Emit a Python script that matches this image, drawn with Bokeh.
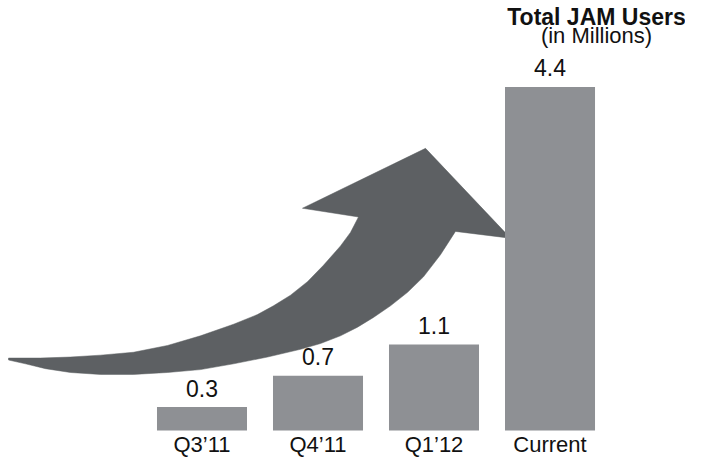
from bokeh.plotting import figure
from bokeh.models import ColumnDataSource, Label, Range1d
from bokeh.core.properties import value
from bokeh.embed import file_html
from bokeh.resources import INLINE

# ---- data ----
categories = ["Q3\u201911", "Q4\u201911", "Q1\u201912", "Current"]
users_millions = [0.3, 0.7, 1.1, 4.4]
value_labels = ["0.3", "0.7", "1.1", "4.4"]
title_text = "Total JAM Users"
subtitle_text = "(in Millions)"

# decorative growth arrow outline, in data units (x: category index, y: millions)
arrow_x = [-1.668, -1.392, -1.134, -0.875, -0.591, -0.297, -0.013, 0.272, 0.478, 0.616,
           0.763, 0.909, 1.047, 1.194, 1.280, 1.349,
           0.866, 1.927, 2.660, 2.185,
           2.056, 1.909, 1.772, 1.625, 1.478, 1.341, 1.194, 1.022, 0.849, 0.565,
           0.272, -0.013, -0.297, -0.591, -0.875, -1.134, -1.349, -1.522, -1.668]
arrow_y = [0.928, 0.928, 0.941, 0.965, 1.002, 1.089, 1.213, 1.361, 1.485, 1.597,
           1.733, 1.906, 2.116, 2.364, 2.537, 2.735,
           2.847, 3.614, 2.463, 2.550,
           2.252, 1.968, 1.770, 1.597, 1.448, 1.324, 1.213, 1.114, 1.040, 0.941,
           0.854, 0.780, 0.743, 0.718, 0.718, 0.743, 0.792, 0.854, 0.903]

xs = list(range(len(categories)))
src = ColumnDataSource(dict(x=xs, top=users_millions, cat=categories, lab=value_labels))

p = figure(width=685, height=458, output_backend="svg", toolbar_location=None,
           x_range=Range1d(-1.737, 4.168), y_range=Range1d(-0.3587, 5.508),
           min_border=0, outline_line_color=None)
p.axis.visible = False
p.grid.visible = False
p.background_fill_color = "white"
p.border_fill_color = "white"

BAR = "#8e9094"
ARROW = "#5d6063"
TXT = "#111111"

p.patch(arrow_x, arrow_y, fill_color=ARROW, line_color=ARROW, line_width=0.5)

p.vbar(x="x", top="top", bottom=0, width=0.776, source=src,
       fill_color=BAR, line_color=None)

p.text(x="x", y="top", text="lab", source=src, y_offset=-19,
       text_align="center", text_baseline="alphabetic",
       text_font=value("Liberation Sans"), text_font_size="23px", text_color=TXT)

p.text(x="x", y=0, text="cat", source=src, y_offset=14,
       text_align="center", text_baseline="alphabetic",
       text_font=value("Liberation Sans"), text_font_size="22px", text_color=TXT)

p.add_layout(Label(x=596, y=442, x_units="screen", y_units="screen", text=title_text,
                   text_align="center", text_baseline="alphabetic",
                   text_font="Liberation Sans", text_font_style="bold",
                   text_font_size="23px", text_color=TXT))
p.add_layout(Label(x=596, y=423, x_units="screen", y_units="screen", text=subtitle_text,
                   text_align="center", text_baseline="alphabetic",
                   text_font="Liberation Sans", text_font_size="22px", text_color=TXT))

open("out.html", "w").write(file_html(p, INLINE))
